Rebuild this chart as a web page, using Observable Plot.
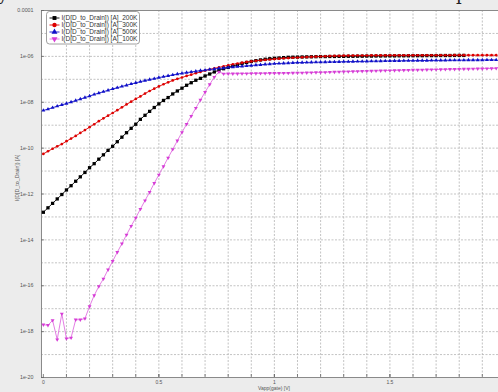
<!DOCTYPE html>
<html>
<head>
<meta charset="utf-8">
<script src="https://cdn.jsdelivr.net/npm/d3@7"></script>
<script src="https://cdn.jsdelivr.net/npm/@observablehq/plot@0.6"></script>
<style>
html, body { margin: 0; padding: 0; background: #ececec; }
#wrap { position: relative; width: 498px; height: 392px; overflow: hidden; background: #ececec; }
.cut { position: absolute; top: -15px; font-family: "DejaVu Serif", serif; font-size: 18px; line-height: 18px; color: #222; }
</style>
</head>
<body>
<div id="wrap">
  <div class="cut" style="left:-2px">y</div>
  <div class="cut" style="left:456px">p</div>
</div>
<script>
// ---- data ----
const vgate = [
  0,0.02,0.04,0.06,0.08,0.1,0.12,0.14,0.16,0.18,
  0.2,0.22,0.24,0.26,0.28,0.3,0.32,0.34,0.36,0.38,
  0.4,0.42,0.44,0.46,0.48,0.5,0.52,0.54,0.56,0.58,
  0.6,0.62,0.64,0.66,0.68,0.7,0.72,0.74,0.76,0.78,
  0.8,0.82,0.84,0.86,0.88,0.9,0.92,0.94,0.96,0.98,
  1,1.02,1.04,1.06,1.08,1.1,1.12,1.14,1.16,1.18,
  1.2,1.22,1.24,1.26,1.28,1.3,1.32,1.34,1.36,1.38,
  1.4,1.42,1.44,1.46,1.48,1.5,1.52,1.54,1.56,1.58,
  1.6,1.62,1.64,1.66,1.68,1.7,1.72,1.74,1.76,1.78,
  1.8,1.82,1.84,1.86,1.88,1.9,1.92,1.94,1.96
];

const i200K = [
  1.6e-13,2.5e-13,3.9e-13,6.1e-13,9.5e-13,1.5e-12,2.3e-12,3.6e-12,5.6e-12,8.7e-12,
  1.4e-11,2.1e-11,3.3e-11,5.1e-11,8.0e-11,1.2e-10,1.9e-10,3.0e-10,4.7e-10,7.3e-10,
  1.1e-9,1.8e-9,2.7e-9,4.0e-9,5.9e-9,8.5e-9,1.2e-8,1.6e-8,2.3e-8,3.1e-8,
  4.1e-8,5.5e-8,7.1e-8,9.1e-8,1.1e-7,1.4e-7,1.7e-7,2.1e-7,2.5e-7,2.9e-7,
  3.3e-7,3.8e-7,4.3e-7,4.9e-7,5.4e-7,6.0e-7,6.5e-7,7.0e-7,7.5e-7,7.9e-7,
  8.2e-7,8.5e-7,8.8e-7,9.1e-7,9.2e-7,9.3e-7,9.4e-7,9.5e-7,9.6e-7,9.7e-7,
  9.8e-7,9.8e-7,9.9e-7,9.9e-7,1.0e-6,1.0e-6,1.01e-6,1.01e-6,1.02e-6,1.02e-6,
  1.03e-6,1.03e-6,1.04e-6,1.04e-6,1.05e-6,1.05e-6,1.05e-6,1.06e-6,1.06e-6,1.06e-6,
  1.07e-6,1.07e-6,1.07e-6,1.08e-6,1.08e-6,1.08e-6,1.09e-6,1.09e-6,1.09e-6,1.10e-6,
  1.10e-6,1.10e-6
];

const i300K = [
  5.6e-11,7.3e-11,9.4e-11,1.2e-10,1.5e-10,2.0e-10,2.6e-10,3.4e-10,4.6e-10,6.1e-10,
  8.2e-10,1.1e-9,1.5e-9,2.0e-9,2.6e-9,3.4e-9,4.5e-9,6.0e-9,8.0e-9,1.06e-8,
  1.4e-8,1.8e-8,2.4e-8,3.1e-8,3.9e-8,4.9e-8,6.1e-8,7.4e-8,8.9e-8,1.05e-7,
  1.2e-7,1.4e-7,1.6e-7,1.85e-7,2.1e-7,2.4e-7,2.7e-7,3.0e-7,3.3e-7,3.7e-7,
  4.1e-7,4.5e-7,4.9e-7,5.3e-7,5.7e-7,6.0e-7,6.4e-7,6.7e-7,7.0e-7,7.3e-7,
  7.6e-7,7.9e-7,8.2e-7,8.4e-7,8.7e-7,8.9e-7,9.1e-7,9.3e-7,9.5e-7,9.7e-7,
  9.9e-7,1.01e-6,1.03e-6,1.05e-6,1.06e-6,1.07e-6,1.08e-6,1.08e-6,1.09e-6,1.09e-6,
  1.09e-6,1.10e-6,1.10e-6,1.10e-6,1.10e-6,1.11e-6,1.11e-6,1.11e-6,1.11e-6,1.11e-6,
  1.11e-6,1.12e-6,1.12e-6,1.12e-6,1.12e-6,1.12e-6,1.12e-6,1.12e-6,1.12e-6,1.13e-6,
  1.13e-6,1.13e-6,1.13e-6,1.13e-6,1.13e-6,1.13e-6,1.13e-6,1.13e-6,1.13e-6
];

const i500K = [
  4.4e-9,5.0e-9,5.8e-9,6.7e-9,7.7e-9,8.8e-9,1.02e-8,1.18e-8,1.37e-8,1.6e-8,
  1.85e-8,2.2e-8,2.5e-8,2.9e-8,3.3e-8,3.8e-8,4.3e-8,4.9e-8,5.5e-8,6.3e-8,
  7.0e-8,7.9e-8,8.8e-8,9.7e-8,1.07e-7,1.19e-7,1.3e-7,1.42e-7,1.56e-7,1.69e-7,
  1.83e-7,1.96e-7,2.1e-7,2.24e-7,2.4e-7,2.5e-7,2.7e-7,2.8e-7,3.0e-7,3.1e-7,
  3.3e-7,3.4e-7,3.55e-7,3.7e-7,3.85e-7,4.0e-7,4.2e-7,4.3e-7,4.5e-7,4.65e-7,
  4.8e-7,4.9e-7,5.0e-7,5.1e-7,5.25e-7,5.35e-7,5.4e-7,5.45e-7,5.5e-7,5.55e-7,
  5.6e-7,5.65e-7,5.7e-7,5.75e-7,5.8e-7,5.85e-7,5.9e-7,5.95e-7,6.0e-7,6.05e-7,
  6.1e-7,6.15e-7,6.2e-7,6.25e-7,6.3e-7,6.35e-7,6.4e-7,6.4e-7,6.45e-7,6.5e-7,
  6.5e-7,6.55e-7,6.6e-7,6.6e-7,6.65e-7,6.7e-7,6.7e-7,6.75e-7,6.8e-7,6.8e-7,
  6.85e-7,6.85e-7,6.9e-7,6.9e-7,6.95e-7,6.95e-7,7.0e-7,7.0e-7,7.0e-7
];

const i100K = [
  2.0e-18,1.9e-18,3.1e-18,4.5e-19,6.0e-18,5.0e-19,5.4e-19,3.3e-18,3.3e-18,3.7e-18,
  1.26e-17,3.8e-17,9.3e-17,2.0e-16,5.0e-16,1.17e-15,2.9e-15,6.8e-15,1.66e-14,4.0e-14,
  9.1e-14,2.2e-13,5.2e-13,1.2e-12,2.95e-12,6.9e-12,1.6e-11,3.8e-11,8.9e-11,2.1e-10,
  4.9e-10,1.1e-9,2.5e-9,5.6e-9,1.26e-8,2.75e-8,6.0e-8,1.26e-7,2.1e-7,1.74e-7,
  1.75e-7,1.76e-7,1.77e-7,1.78e-7,1.79e-7,1.8e-7,1.81e-7,1.82e-7,1.83e-7,1.84e-7,
  1.85e-7,1.86e-7,1.87e-7,1.88e-7,1.9e-7,1.91e-7,1.93e-7,1.95e-7,1.97e-7,1.99e-7,
  2.0e-7,2.03e-7,2.06e-7,2.09e-7,2.12e-7,2.15e-7,2.18e-7,2.21e-7,2.24e-7,2.27e-7,
  2.3e-7,2.32e-7,2.35e-7,2.37e-7,2.4e-7,2.42e-7,2.45e-7,2.47e-7,2.5e-7,2.52e-7,
  2.55e-7,2.57e-7,2.6e-7,2.62e-7,2.65e-7,2.67e-7,2.7e-7,2.72e-7,2.75e-7,2.77e-7,
  2.8e-7,2.82e-7,2.85e-7,2.87e-7,2.9e-7,2.92e-7,2.95e-7,2.97e-7,3.0e-7
];

const seriesNames = [
  "I(D[D_to_Drain]) [A]_200K",
  "I(D[D_to_Drain]) [A]_300K",
  "I(D[D_to_Drain]) [A]_500K",
  "I(D[D_to_Drain]) [A]_100K"
];

const xTickValues = [0, 0.5, 1, 1.5];
const xTickLabels = ["0", "0.5", "1", "1.5"];
const xGridValues = [0.1,0.2,0.3,0.4,0.5,0.6,0.7,0.8,0.9,1,1.1,1.2,1.3,1.4,1.5,1.6,1.7,1.8,1.9];
const yTickValues = [1e-4,1e-6,1e-8,1e-10,1e-12,1e-14,1e-16,1e-18,1e-20];
const yTickLabels = ["0.0001","1e-06","1e-08","1e-10","1e-12","1e-14","1e-16","1e-18","1e-20"];
const yGridValues = [1e-5,1e-6,1e-7,1e-8,1e-9,1e-10,1e-11,1e-12,1e-13,1e-14,1e-15,1e-16,1e-17,1e-18,1e-19];
const xTitle = "Vapp(gate) [V]";
const yTitle = "I(D[D_to_Drain]) [A]";

// ---- styling per series ----
const styles = [
  {color: "#000000", line: "#000000", symbol: "square",   d3sym: d3.symbolSquare,   rotate: 0,   r: 1.85},
  {color: "#dd0000", line: "#dd0000", symbol: "circle",   d3sym: d3.symbolCircle,   rotate: 0,   r: 1.35},
  {color: "#1010c8", line: "#1010c8", symbol: "triangle", d3sym: d3.symbolTriangle, rotate: 0,   r: 1.45},
  {color: "#d63cd6", line: "#e070e0", symbol: "triangle", d3sym: d3.symbolTriangle, rotate: 180, r: 1.45}
];
const seriesValues = [i200K, i300K, i500K, i100K];

const series = seriesNames.map((name, k) => ({
  name, ...styles[k],
  rows: seriesValues[k].map((v, j) => ({x: vgate[j], y: v}))
}));

const xLabelOf = new Map(xTickValues.map((v, i) => [v, xTickLabels[i]]));
const yLabelOf = new Map(yTickValues.map((v, i) => [v, yTickLabels[i]]));

const gridStyle = {stroke: "#b4b4b4", strokeOpacity: 1, strokeWidth: 0.8, strokeDasharray: "2,1.5"};

const marks = [
  Plot.frame({fill: "white", stroke: "none"}),
  Plot.gridX(xGridValues, gridStyle),
  Plot.gridY(yGridValues, gridStyle),
  Plot.frame({stroke: "#8a8a8a", strokeWidth: 1}),
  Plot.tickX(xGridValues.concat(xTickValues), {x: d => d, insetTop: 364, stroke: "#666", strokeWidth: 0.8}),
  Plot.tickY(yTickValues, {y: d => d, insetRight: 454, stroke: "#666", strokeWidth: 0.8}),
  Plot.axisX(xTickValues, {tickFormat: d => xLabelOf.get(d), tickSize: 0, tickPadding: 3, fontSize: 5, fill: "#555", label: null}),
  Plot.axisY(yTickValues, {tickFormat: d => yLabelOf.get(d), tickSize: 0, tickPadding: 8, fontSize: 5.3, fill: "#555", label: null}),
  Plot.text([xTitle], {text: d => d, frameAnchor: "bottom", dx: 4, dy: 12.5, fontSize: 5, fill: "#555"}),
  Plot.text([yTitle], {text: d => d, frameAnchor: "left", dx: -24, dy: 7, rotate: -90, fontSize: 5.3, fill: "#555"})
];
for (const s of series) {
  marks.push(Plot.line(s.rows, {x: "x", y: "y", stroke: s.line, strokeWidth: 0.9}));
  marks.push(Plot.dot(s.rows, {x: "x", y: "y", symbol: s.symbol, rotate: s.rotate, r: s.r, fill: s.color, stroke: "none"}));
}

const chart = Plot.plot({
  width: 498,
  height: 392,
  marginTop: 10,
  marginBottom: 15,
  marginLeft: 41,
  marginRight: 0,
  style: {background: "transparent", fontFamily: "'Liberation Sans', Arial, sans-serif", fontSize: "5.3px", color: "#555"},
  x: {domain: [-0.008, 1.97], label: null},
  y: {type: "log", domain: [1e-20, 1e-4], label: null},
  marks
});
chart.style.position = "absolute";
chart.style.left = "0px";
chart.style.top = "0px";
document.getElementById("wrap").appendChild(chart);

// ---- legend inside the plot area ----
const leg = d3.select("#wrap").append("svg")
  .attr("width", 95).attr("height", 35)
  .style("position", "absolute").style("left", "46px").style("top", "11px");
leg.append("rect").attr("x", 0.5).attr("y", 0.5).attr("width", 93).attr("height", 32.5)
  .attr("rx", 3).attr("fill", "white").attr("stroke", "#888").attr("stroke-width", 0.8);
series.forEach((s, i) => {
  const cy = 7 + i * 7;
  leg.append("line").attr("x1", 3.5).attr("x2", 13.5).attr("y1", cy).attr("y2", cy)
    .attr("stroke", s.line).attr("stroke-width", 0.9);
  leg.append("path").attr("d", d3.symbol(s.d3sym, Math.PI * 2.2 * 2.2)())
    .attr("transform", `translate(8.5,${cy}) rotate(${s.rotate})`).attr("fill", s.color);
  leg.append("text").attr("x", 15.5).attr("y", cy).attr("dy", "0.35em")
    .attr("font-family", "'Liberation Sans', Arial, sans-serif").attr("font-size", 6.5)
    .attr("fill", "#333").text(s.name);
});
</script>
</body>
</html>
